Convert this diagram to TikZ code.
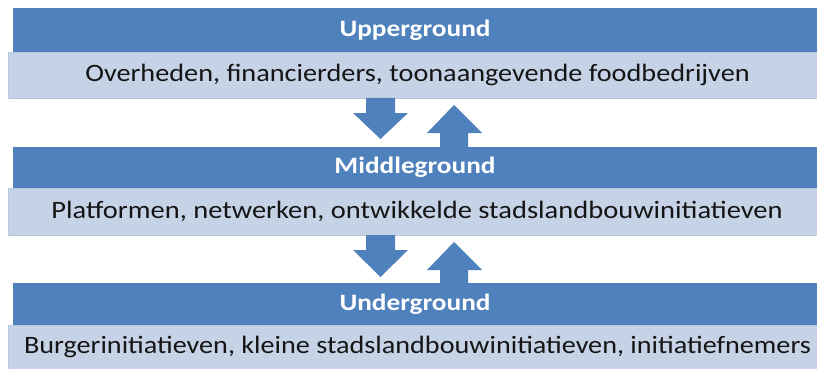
\documentclass[tikz,border=0pt]{standalone}
\usepackage{fontspec}
\setmainfont{Carlito}
\usetikzlibrary{calc}
\definecolor{bandblue}{HTML}{4F81BD}
\definecolor{bandlight}{HTML}{C6D3E6}
\definecolor{bandrim}{HTML}{B9C7DC}
\definecolor{arrowblue}{HTML}{4F81BD}
\definecolor{desctext}{HTML}{151515}
% wide setting of the bar texts
\newcommand{\widetext}[2]{\scalebox{#1}[1]{#2}}
\begin{document}
\begin{tikzpicture}[x=1pt,y=-1pt,
  levelbar/.style={anchor=north west, inner sep=0pt, outer sep=0pt,
    fill=bandblue, minimum width=804pt, text=white,
    font=\fontsize{23.5}{26}\selectfont\bfseries},
  descbar/.style={anchor=north west, inner sep=0pt, outer sep=0pt,
    fill=bandlight, draw=bandrim, line width=0.8pt, minimum width=809pt},
  desctext/.style={anchor=center, inner sep=0pt, text=desctext,
    font=\fontsize{25}{28}\selectfont},
  blockarrow/.style={fill=arrowblue}]
\useasboundingbox (0,0) rectangle (817,369);

% the three levels, each a title bar with a description bar below it
\node[levelbar, minimum height=44pt] (upper) at (13,8)
  {\widetext{1.16}{Upperground}};
\node[descbar, minimum height=46pt] (upperdesc) at (8,52) {};
\node[desctext] (uppertext) at ($(upperdesc.center)+(5,0)$)
  {\widetext{1.13}{Overheden, financierders, toonaangevende foodbedrijven}};

\node[levelbar, minimum height=41pt] (middle) at (13,147)
  {\widetext{1.16}{Middleground}};
\node[descbar, minimum height=47pt] (middledesc) at (8,188) {};
\node[desctext] (middletext) at ($(middledesc.center)+(4.5,0)$)
  {\widetext{1.14}{Platformen, netwerken, ontwikkelde stadslandbouwinitiatieven}};

\node[levelbar, minimum height=42pt] (under) at (13,283)
  {\widetext{1.16}{Underground}};
\node[descbar, minimum height=44pt] (underdesc) at (8,325) {};
\node[desctext] (undertext) at ($(underdesc.center)+(5,0)$)
  {\widetext{1.127}{Burgerinitiatieven, kleine stadslandbouwinitiatieven, initiatiefnemers}};

% block arrows between the levels: downwards on the left, upwards on the right
\fill[blockarrow] (366,98) -- (395,98) -- (395,113) -- (408,113) -- (380.5,139)
  -- (353,113) -- (366,113) -- cycle;
\fill[blockarrow] (440,147) -- (468,147) -- (468,133) -- (482,133) -- (454,105)
  -- (427,133) -- (440,133) -- cycle;

\fill[blockarrow] (366,235) -- (395,235) -- (395,250) -- (408,250) -- (380.5,277)
  -- (353,250) -- (366,250) -- cycle;
\fill[blockarrow] (440,283) -- (468,283) -- (468,270) -- (482,270) -- (454,242)
  -- (427,270) -- (440,270) -- cycle;
\end{tikzpicture}
\end{document}
